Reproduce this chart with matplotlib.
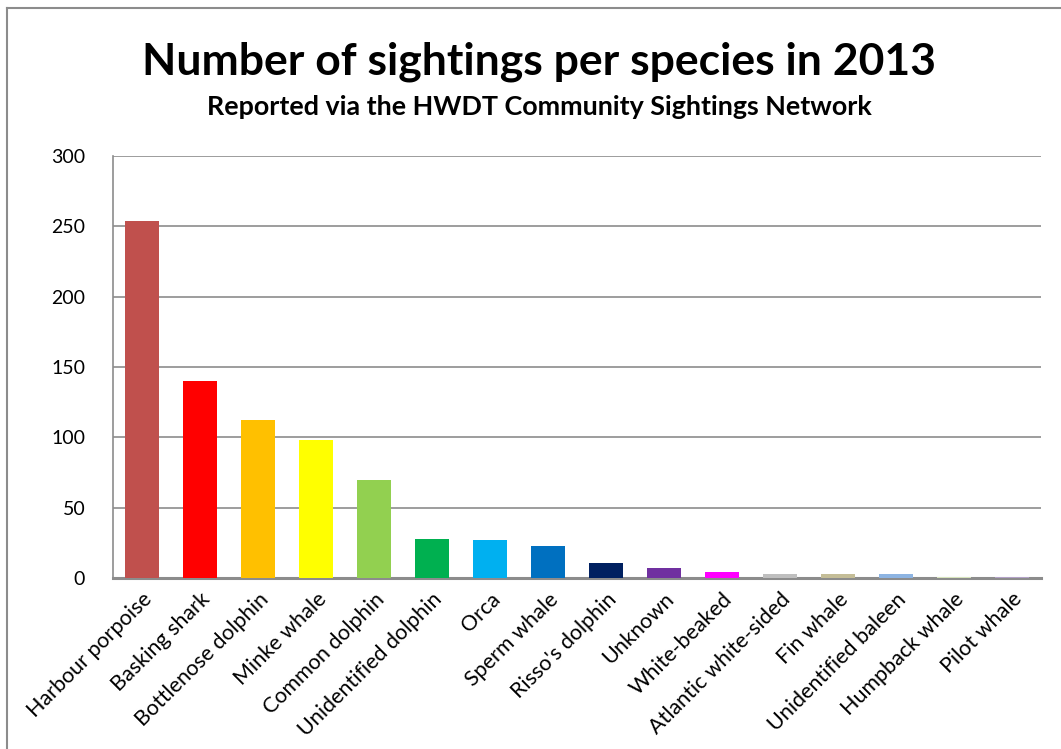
import matplotlib.pyplot as plt
from matplotlib.lines import Line2D

species = ["Harbour porpoise", "Basking shark", "Bottlenose dolphin", "Minke whale",
           "Common dolphin", "Unidentified dolphin", "Orca", "Sperm whale",
           "Risso's dolphin", "Unknown", "White-beaked", "Atlantic white-sided",
           "Fin whale", "Unidentified baleen", "Humpback whale", "Pilot whale"]
sightings = [254, 140, 112, 98, 70, 28, 27, 23, 11, 7, 4, 3, 3, 3, 1, 1]
colours = ["#C0504D", "#FF0000", "#FFC000", "#FFFF00", "#92D050", "#00B050",
           "#00B0F0", "#0070C0", "#002060", "#7030A0", "#FF00FF", "#BFBFBF",
           "#C4BD97", "#8DB4E2", "#D7E4BD", "#B3A2C7"]

plt.rcParams['font.family'] = ['Lato', 'DejaVu Sans']

fig = plt.figure(figsize=(10.61, 7.49), dpi=100)
ax = fig.add_axes([0.1065, 0.2283, 0.8745, 0.5634])

x = range(len(species))
ax.bar(x, sightings, width=0.59, color=colours, zorder=3)
ax.set_xlim(-0.5, len(species) - 0.5)
ax.set_ylim(0, 300)
ax.set_yticks(range(0, 301, 50))
ax.yaxis.grid(True, color='#8C8C8C', linewidth=1.2, zorder=0)
ax.tick_params(axis='y', length=0, labelsize=14, pad=20)
ax.tick_params(axis='x', length=0, labelsize=15.5, pad=8)
ax.set_xticks(list(x))
ax.set_xticklabels(species, rotation=45, ha='right', rotation_mode='anchor')

for s in ['top', 'right']:
    ax.spines[s].set_visible(False)
ax.spines['left'].set_color('#8C8C8C')
ax.spines['left'].set_linewidth(1.2)
ax.spines['bottom'].set_color('#8C8C8C')
ax.spines['bottom'].set_linewidth(2.2)

fig.text(0.508, 0.918, "Number of sightings per species in 2013", ha='center', va='center',
         fontsize=32, fontweight='bold')
fig.text(0.508, 0.857, "Reported via the HWDT Community Sightings Network", ha='center',
         va='center', fontsize=19.4, fontweight='bold')

# chart border (left and top edges visible)
fig.add_artist(Line2D([7 / 1061, 7 / 1061], [0, 1 - 8 / 749], transform=fig.transFigure,
                      color='#8C8C8C', linewidth=1.5))
fig.add_artist(Line2D([7 / 1061, 1], [1 - 8 / 749, 1 - 8 / 749], transform=fig.transFigure,
                      color='#8C8C8C', linewidth=1.5))

fig.savefig('out.png', dpi=100)
